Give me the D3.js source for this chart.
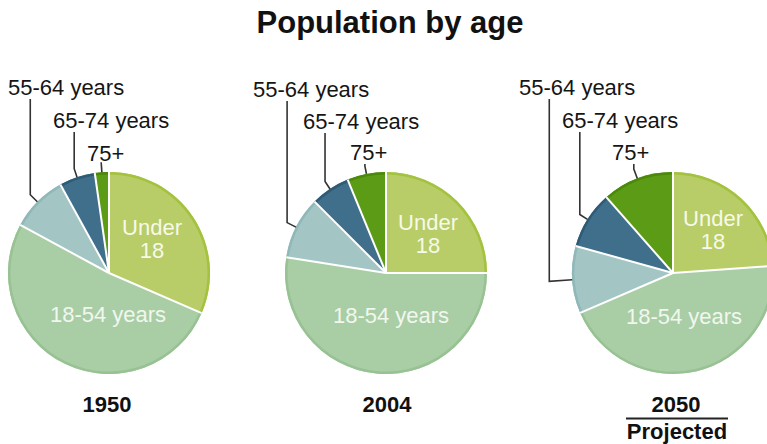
<!DOCTYPE html>
<html>
<head>
<meta charset="utf-8">
<script src="https://cdn.jsdelivr.net/npm/d3@7"></script>
<style>
  html, body { margin: 0; padding: 0; background: #fff; }
  svg { display: block; font-family: "Liberation Sans", Arial, Helvetica, sans-serif; }
</style>
</head>
<body>
<svg id="chart" width="767" height="444"></svg>
<script>
// ---- Data ----
const title = "Population by age";
const categories = ["Under 18", "18-54 years", "55-64 years", "65-74 years", "75+"];
const years = ["1950", "2004", "2050"];
const values1950 = [31.5, 51.4, 9.1, 5.75, 2.25];
const values2004 = [25.0, 52.5, 10.0, 6.3, 6.2];
const values2050 = [23.9, 44.7, 10.8, 9.2, 11.5];
const subtitles = ["", "", "Projected"];

// ---- Styles / layout ----
const fills = ["#b8cd67", "#a9cea5", "#a3c6c5", "#3f6f8b", "#5c9b16"];
const edges = ["#a3c23e", "#98c294", "#90b8b8", "#2f5b77", "#4b890b"];
const W = 767, H = 444, R = 101;
const centersX = [109, 386, 673];
const centerY = 273;
// outside label layout per pie: [dx of text start, baseline y, knee radius offset]
const outLayout = [
  [[-101, 95, 10], [-56, 128, 9], [-22, 161, 10]],
  [[-133, 97, 10], [-83, 129, 9], [-36, 160, 8]],
  [[-154, 95, 23], [-111, 128, 9], [-61, 160, 10]]
];
// inside label layout per pie: under18 [dx, dy1, dy2], adults [dx, dy]
const inUnder = [[43, -38, -15], [42, -43, -20], [40, -47, -24]];
const inAdult = [[-1, 49], [5, 50], [11, 51]];

const allValues = [values1950, values2004, values2050];
const svg = d3.select("#chart");

svg.append("text")
  .attr("x", 390).attr("y", 33)
  .attr("text-anchor", "middle")
  .attr("font-size", 31).attr("font-weight", "bold")
  .attr("fill", "#111")
  .text(title);

const pie = d3.pie().sort(null).value(d => d)
  .startAngle(0).endAngle(2 * Math.PI);
const arc = d3.arc().innerRadius(0).outerRadius(R);
const ring = d3.arc().innerRadius(R - 2.5).outerRadius(R);

function pt(angle, r) {
  return [r * Math.sin(angle), -r * Math.cos(angle)];
}

allValues.forEach((vals, pi) => {
  const cx = centersX[pi];
  const g = svg.append("g").attr("transform", `translate(${cx},${centerY})`);
  const arcs = pie(vals);

  g.selectAll("path.slice").data(arcs).enter().append("path")
    .attr("class", "slice")
    .attr("d", arc)
    .attr("fill", (d, i) => fills[i]);

  g.selectAll("path.ring").data(arcs).enter().append("path")
    .attr("class", "ring")
    .attr("d", ring)
    .attr("fill", (d, i) => edges[i]);

  // white separators
  g.selectAll("line.sep").data(arcs).enter().append("line")
    .attr("class", "sep")
    .attr("x1", 0).attr("y1", 0)
    .attr("x2", d => pt(d.startAngle, R)[0])
    .attr("y2", d => pt(d.startAngle, R)[1])
    .attr("stroke", "#fff").attr("stroke-width", 2);

  // inside labels
  const u = inUnder[pi];
  const ut = g.append("text").attr("text-anchor", "middle")
    .attr("font-size", 22).attr("fill", "#f7f9ea");
  ut.append("tspan").attr("x", u[0]).attr("y", u[1]).text(categories[0].split(" ")[0]);
  ut.append("tspan").attr("x", u[0]).attr("y", u[2]).text("18");
  const a = inAdult[pi];
  g.append("text").attr("text-anchor", "middle")
    .attr("x", a[0]).attr("y", a[1])
    .attr("font-size", 22).attr("fill", "#f1f7ef")
    .text(categories[1]);

  // outside labels with leaders
  arcs.slice(2).forEach((d, k) => {
    const lay = outLayout[pi][k];
    const mid = (d.startAngle + d.endAngle) / 2;
    const edge = pt(mid, R);
    const knee = pt(mid, R + lay[2]);
    const baseY = lay[1] - centerY;
    const topY = baseY + 4;
    let path;
    if (knee[1] > topY + 1) {
      path = `M${knee[0]},${topY}L${knee[0]},${knee[1]}L${edge[0]},${edge[1]}`;
    } else {
      path = `M${knee[0]},${knee[1]}L${edge[0]},${edge[1]}`;
    }
    g.append("path").attr("d", path)
      .attr("fill", "none").attr("stroke", "#333").attr("stroke-width", 1.6);
    g.append("text")
      .attr("x", lay[0]).attr("y", baseY)
      .attr("font-size", 22).attr("fill", "#151515")
      .text(categories[k + 2]);
  });

  // year label
  svg.append("text")
    .attr("x", cx + (pi === 0 ? -2 : pi === 1 ? 1 : 3)).attr("y", 412)
    .attr("text-anchor", "middle")
    .attr("font-size", 22).attr("font-weight", "bold").attr("fill", "#111")
    .text(years[pi]);
  if (subtitles[pi]) {
    const sx = cx + 4;
    svg.append("line")
      .attr("x1", sx - 51).attr("x2", sx + 51)
      .attr("y1", 418.5).attr("y2", 418.5)
      .attr("stroke", "#222").attr("stroke-width", 1.8);
    svg.append("text")
      .attr("x", sx).attr("y", 439)
      .attr("text-anchor", "middle")
      .attr("font-size", 22).attr("font-weight", "bold").attr("fill", "#111")
      .text(subtitles[pi]);
  }
});
</script>
</body>
</html>
